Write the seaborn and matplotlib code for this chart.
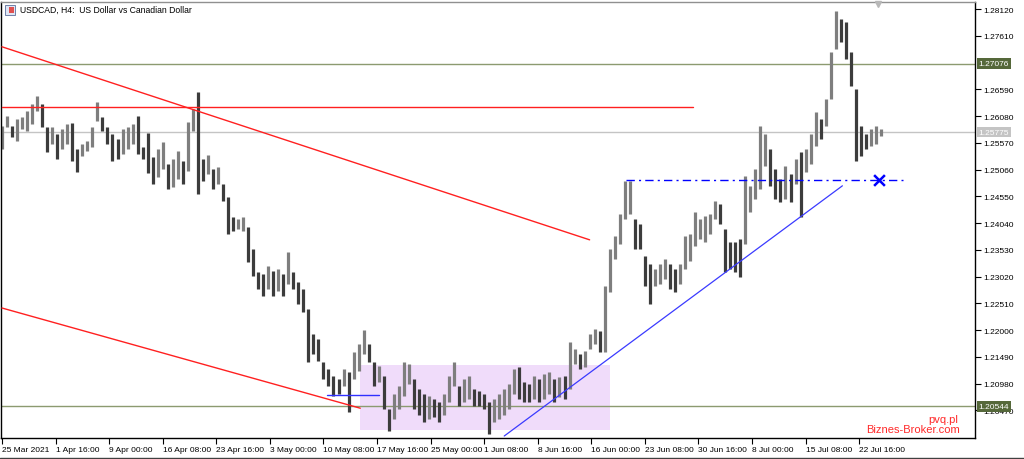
import matplotlib
matplotlib.use("Agg")
import matplotlib.pyplot as plt
import matplotlib.transforms as mtransforms
from matplotlib.patches import Rectangle
from matplotlib.lines import Line2D
import seaborn as sns

# ---------------- data (H4 bars, sampled every 3rd bar) ----------------
bar_index = list(range(0, 526, 3))

highs = [
    1.2589, 1.2608, 1.2589, 1.2602, 1.2606, 1.2617, 1.2630, 1.2646, 1.2630, 1.2587,
    1.2587, 1.2573, 1.2583, 1.2592, 1.2594, 1.2545, 1.2554, 1.2560, 1.2587, 1.2634,
    1.2606, 1.2587, 1.2573, 1.2564, 1.2583, 1.2587, 1.2592, 1.2608, 1.2549, 1.2575,
    1.2530, 1.2545, 1.2558, 1.2516, 1.2526, 1.2541, 1.2522, 1.2596, 1.2621, 1.2653,
    1.2526, 1.2534, 1.2507, 1.2511, 1.2478, 1.2454, 1.2416, 1.2412, 1.2416, 1.2397,
    1.2354, 1.2310, 1.2306, 1.2322, 1.2312, 1.2316, 1.2306, 1.2348, 1.2310, 1.2291,
    1.2278, 1.2240, 1.2192, 1.2183, 1.2139, 1.2126, 1.2113, 1.2107, 1.2126, 1.2120,
    1.2158, 1.2173, 1.2200, 1.2173, 1.2139, 1.2132, 1.2113, 1.2049, 1.2078, 1.2094,
    1.2139, 1.2135, 1.2107, 1.2088, 1.2078, 1.2075, 1.2068, 1.2062, 1.2078, 1.2113,
    1.2139, 1.2094, 1.2107, 1.2113, 1.2088, 1.2084, 1.2078, 1.2062,
    1.2068, 1.2078, 1.2088, 1.2097, 1.2126, 1.2130, 1.2101, 1.2097, 1.2113, 1.2107,
    1.2116, 1.2120, 1.2107, 1.2111, 1.2113, 1.2177, 1.2164, 1.2154, 1.2160, 1.2192,
    1.2202, 1.2198, 1.2284, 1.2354, 1.2380, 1.2421, 1.2484, 1.2484, 1.2412, 1.2402,
    1.2341, 1.2325, 1.2316, 1.2325, 1.2335, 1.2325, 1.2316, 1.2325, 1.2380, 1.2383,
    1.2425, 1.2412, 1.2418, 1.2421, 1.2446, 1.2440, 1.2393, 1.2368, 1.2368,
    1.2374, 1.2494, 1.2475, 1.2507, 1.2589, 1.2573, 1.2545, 1.2507, 1.2488, 1.2513,
    1.2497, 1.2526, 1.2539, 1.2545, 1.2573, 1.2615, 1.2602, 1.2640, 1.2730, 1.2808,
    1.2793, 1.2787, 1.2730, 1.2659, 1.2589, 1.2573, 1.2583, 1.2589, 1.2583,
]

lows = [
    1.2545, 1.2587, 1.2568, 1.2560, 1.2583, 1.2579, 1.2592, 1.2617, 1.2587, 1.2539,
    1.2554, 1.2526, 1.2545, 1.2554, 1.2522, 1.2501, 1.2532, 1.2541, 1.2549, 1.2598,
    1.2579, 1.2554, 1.2522, 1.2526, 1.2535, 1.2545, 1.2554, 1.2535, 1.2526, 1.2499,
    1.2478, 1.2492, 1.2507, 1.2469, 1.2473, 1.2488, 1.2478, 1.2503, 1.2579, 1.2459,
    1.2484, 1.2497, 1.2469, 1.2478, 1.2446, 1.2383, 1.2389, 1.2393, 1.2389, 1.2329,
    1.2303, 1.2278, 1.2265, 1.2278, 1.2265, 1.2274, 1.2265, 1.2287, 1.2278, 1.2249,
    1.2234, 1.2139, 1.2154, 1.2141, 1.2107, 1.2094, 1.2075, 1.2078, 1.2094, 1.2043,
    1.2107, 1.2122, 1.2154, 1.2139, 1.2094, 1.2101, 1.2049, 1.2007, 1.2030, 1.2049,
    1.2075, 1.2097, 1.2049, 1.2039, 1.2024, 1.2030, 1.2034, 1.2024, 1.2039, 1.2062,
    1.2094, 1.2055, 1.2062, 1.2068, 1.2055, 1.2055, 1.2049, 1.2001,
    1.2024, 1.2030, 1.2039, 1.2049, 1.2078, 1.2068, 1.2062, 1.2062, 1.2068, 1.2062,
    1.2068, 1.2078, 1.2062, 1.2073, 1.2068, 1.2088, 1.2135, 1.2126, 1.2130, 1.2164,
    1.2173, 1.2158, 1.2158, 1.2272, 1.2335, 1.2364, 1.2412, 1.2421, 1.2354, 1.2354,
    1.2284, 1.2249, 1.2284, 1.2287, 1.2297, 1.2278, 1.2272, 1.2287, 1.2316, 1.2331,
    1.2361, 1.2374, 1.2368, 1.2383, 1.2412, 1.2402, 1.2310, 1.2316, 1.2310,
    1.2301, 1.2364, 1.2425, 1.2450, 1.2469, 1.2513, 1.2475, 1.2450, 1.2444, 1.2450,
    1.2444, 1.2478, 1.2416, 1.2501, 1.2516, 1.2551, 1.2564, 1.2589, 1.2640, 1.2736,
    1.2749, 1.2717, 1.2666, 1.2522, 1.2532, 1.2545, 1.2551, 1.2554, 1.2570,
]

price_ticks = [1.28120, 1.27610, 1.26590, 1.26080, 1.25570, 1.25060, 1.24550,
               1.24040, 1.23530, 1.23020, 1.22510, 1.22000, 1.21490, 1.20980, 1.20470]
date_tick_pos = list(range(0, 513, 32))
date_labels = ["25 Mar 2021", "1 Apr 16:00", "9 Apr 00:00", "16 Apr 08:00",
               "23 Apr 16:00", "3 May 00:00", "10 May 08:00", "17 May 16:00",
               "25 May 00:00", "1 Jun 08:00", "8 Jun 16:00", "16 Jun 00:00",
               "23 Jun 08:00", "30 Jun 16:00", "8 Jul 00:00", "15 Jul 08:00",
               "22 Jul 16:00"]

resistance_level = 1.27076
support_level = 1.20544
bid_level = 1.25775
red_level = 1.2625
red_level_x = [0, 413]
red_upper_x = [0, 351]
red_upper_y = [1.2740, 1.2372]
red_lower_x = [0, 214]
red_lower_y = [1.2242, 1.2051]
blue_flat_x = [194, 225]
blue_flat_y = [1.2076, 1.2076]
range_box_x = [214, 363]
range_box_y = [1.2009, 1.2133]
blue_trend_x = [300, 502]
blue_trend_y = [1.1998, 1.2475]
target_x = [373, 538]
target_y = [1.2486, 1.2486]
cross_x = [524]
cross_y = [1.2486]

# ---------------- style ----------------
sns.set_style("white")
plt.rcParams["font.family"] = ["Liberation Sans", "DejaVu Sans"]

W, H = 1024, 460
fig = plt.figure(figsize=(W / 100, H / 100), dpi=100)
ax = fig.add_axes([1 / W, 21 / H, 974 / W, 436 / H])

ax.set_xlim(-0.6, 581.2)
ax.set_ylim(1.19942, 1.28254)

# range rectangle
ax.add_patch(Rectangle((range_box_x[0], range_box_y[0]),
                       range_box_x[1] - range_box_x[0],
                       range_box_y[1] - range_box_y[0],
                       facecolor="#f0dcfa", edgecolor="none", zorder=0))

# horizontal levels
ax.axhline(resistance_level, color="#8c9a70", lw=1.0, zorder=1)
ax.axhline(support_level, color="#8c9a70", lw=1.0, zorder=1)
ax.axhline(bid_level, color="#c4c4c4", lw=1.0, zorder=1)

# bars
mids = [(h + l) / 2 for h, l in zip(highs, lows)]
cols = ["#7e7e7e" if i == 0 or mids[i] >= mids[i - 1] else "#3c3c3c"
        for i in range(len(mids))]
ax.vlines(bar_index, lows, highs, colors=cols, linewidth=2.3, zorder=2)

# drawn objects (seaborn lines)
sns.lineplot(x=red_level_x, y=[red_level, red_level], ax=ax, color="#ff2020", lw=1.0, zorder=3)
sns.lineplot(x=red_upper_x, y=red_upper_y, ax=ax, color="#ff2020", lw=1.0, zorder=3)
sns.lineplot(x=red_lower_x, y=red_lower_y, ax=ax, color="#ff2020", lw=1.0, zorder=3)
sns.lineplot(x=blue_flat_x, y=blue_flat_y, ax=ax, color="#3030ff", lw=1.0, zorder=3)
sns.lineplot(x=blue_trend_x, y=blue_trend_y, ax=ax, color="#3a3aff", lw=0.9, zorder=3)
sns.lineplot(x=target_x, y=target_y, ax=ax, color="#0000ff", lw=1.0,
             linestyle=(0, (6, 3, 1.5, 3)), zorder=3)
sns.scatterplot(x=cross_x, y=cross_y, ax=ax, marker="x", s=60, color="#0000ff",
                linewidth=1.8, zorder=4)

# shift marker at the top
ax.plot([523], [1.2822], marker="v", markersize=5, color="#b8b8b8",
        clip_on=False, zorder=5)

# axes
for sp in ax.spines.values():
    sp.set_visible(True)
    sp.set_color("#000000")
    sp.set_linewidth(1.0)
ax.spines["top"].set_color("#909090")

ax.yaxis.tick_right()
ax.set_yticks(price_ticks)
ax.set_yticklabels([f"{v:.5f}" for v in price_ticks])
ax.tick_params(axis="y", direction="out", length=4, width=0.8, labelsize=6,
               pad=2, colors="#000000", right=True, left=False)
ax.set_xticks(date_tick_pos)
ax.set_xticklabels(date_labels, ha="left")
ax.tick_params(axis="x", direction="out", length=4, width=0.8, labelsize=6,
               pad=2, colors="#000000", bottom=True)
ax.set_xlabel("")
ax.set_ylabel("")
ax.grid(False)
if ax.get_legend() is not None:
    ax.get_legend().remove()

# price labels on the right axis
trans = mtransforms.blended_transform_factory(ax.transAxes, ax.transData)
for lvl, fc in [(resistance_level, "#55683a"), (support_level, "#55683a"),
                (bid_level, "#c4c4c4")]:
    ax.text(1.0035, lvl, f"{lvl:.5f}", transform=trans, ha="left", va="center",
            fontsize=6, color="white", zorder=10, clip_on=False,
            bbox=dict(boxstyle="square,pad=0.22", fc=fc, ec="none"))

# title with small icon
fig.add_artist(Rectangle((5 / W, 1 - 16 / H), 10 / W, 10 / H, transform=fig.transFigure,
                         facecolor="#dfe6f5", edgecolor="#7080a8", lw=0.7))
fig.add_artist(Rectangle((9 / W, 1 - 14 / H), 5 / W, 6 / H, transform=fig.transFigure,
                         facecolor="#e05050", edgecolor="none"))
fig.text(20 / W, 1 - 10.5 / H, "USDCAD, H4:  US Dollar vs Canadian Dollar",
         fontsize=6.2, ha="left", va="center", color="#000000")

# watermark
fig.text(958 / W, 1 - 420 / H, "pvq.pl", fontsize=8, ha="right", va="center",
         color="#ff2a2a")
fig.text(960 / W, 1 - 430 / H, "Biznes-Broker.com", fontsize=8, ha="right",
         va="center", color="#ff2a2a")

# window bottom border
fig.add_artist(Line2D([0, 1], [1 - 458.5 / H, 1 - 458.5 / H], transform=fig.transFigure,
                      color="#404040", lw=1.0))

fig.savefig("out.png", dpi=100)
